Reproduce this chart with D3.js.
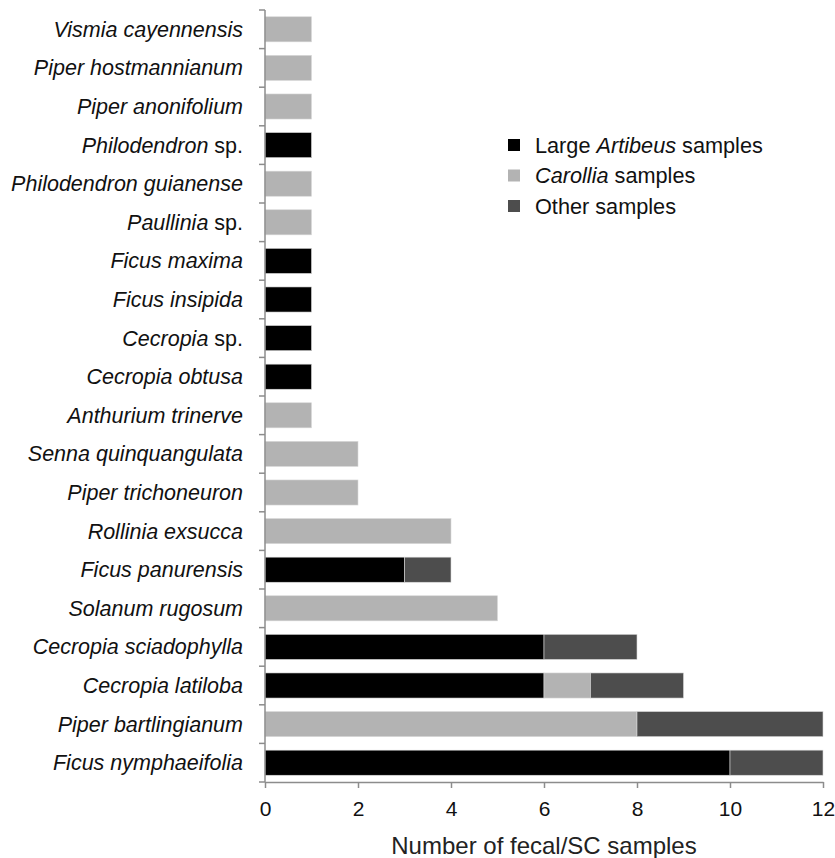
<!DOCTYPE html>
<html>
<head>
<meta charset="utf-8">
<script src="https://cdn.jsdelivr.net/npm/d3@7"></script>
<style>
  body { margin: 0; background: #fff; }
  svg { font-family: "Liberation Sans", Arial, sans-serif; }
</style>
</head>
<body>
<figure style="margin:0"></figure>
<script>
// species, top to bottom; italic part and upright suffix
const species = [
  ["Vismia cayennensis", ""],
  ["Piper hostmannianum", ""],
  ["Piper anonifolium", ""],
  ["Philodendron", " sp."],
  ["Philodendron guianense", ""],
  ["Paullinia", " sp."],
  ["Ficus maxima", ""],
  ["Ficus insipida", ""],
  ["Cecropia", " sp."],
  ["Cecropia obtusa", ""],
  ["Anthurium trinerve", ""],
  ["Senna quinquangulata", ""],
  ["Piper trichoneuron", ""],
  ["Rollinia exsucca", ""],
  ["Ficus panurensis", ""],
  ["Solanum rugosum", ""],
  ["Cecropia sciadophylla", ""],
  ["Cecropia latiloba", ""],
  ["Piper bartlingianum", ""],
  ["Ficus nymphaeifolia", ""]
];
const artibeus = [0, 0, 0, 1, 0, 0, 1, 1, 1, 1, 0, 0, 0, 0, 3, 0, 6, 6, 0, 10];
const carollia = [1, 1, 1, 0, 1, 1, 0, 0, 0, 0, 1, 2, 2, 4, 0, 5, 0, 1, 8, 0];
const other    = [0, 0, 0, 0, 0, 0, 0, 0, 0, 0, 0, 0, 0, 0, 1, 0, 2, 2, 4, 2];
const xTicks = [0, 2, 4, 6, 8, 10, 12];

const keys = ["artibeus", "carollia", "other"];
const colors = { artibeus: "#000000", carollia: "#b3b3b3", other: "#4d4d4d" };
const legendLabels = [
  [["Large ", false], ["Artibeus", true], [" samples", false]],
  [["Carollia", true], [" samples", false]],
  [["Other samples", false]]
];

const width = 835, height = 858;
const plotLeft = 265, plotRight = 823, plotTop = 10, plotBottom = 782;

const rows = species.map((s, i) => ({
  name: s[0] + s[1], artibeus: artibeus[i], carollia: carollia[i], other: other[i]
}));

const svg = d3.select("figure").append("svg")
  .attr("width", width).attr("height", height);

const x = d3.scaleLinear().domain([0, 12]).range([plotLeft, plotRight]);
const y = d3.scaleBand().domain(rows.map(d => d.name)).range([plotTop, plotBottom])
  .paddingInner(0.35).paddingOuter(0.175);

const stack = d3.stack().keys(keys)(rows);

svg.append("g")
  .selectAll("g")
  .data(stack)
  .enter().append("g")
  .attr("fill", d => colors[d.key])
  .selectAll("rect")
  .data(d => d.filter(p => p[1] > p[0]))
  .enter().append("rect")
  .attr("x", d => x(d[0]))
  .attr("y", d => y(d.data.name))
  .attr("width", d => x(d[1]) - x(d[0]))
  .attr("height", y.bandwidth())
  .attr("stroke", "#d9d9d9")
  .attr("stroke-width", 0.6);

// y axis line with boundary ticks
const axisColor = "#8c8c8c";
const step = (plotBottom - plotTop) / species.length;
svg.append("line")
  .attr("x1", plotLeft).attr("x2", plotLeft).attr("y1", plotTop).attr("y2", plotBottom)
  .attr("stroke", axisColor).attr("stroke-width", 1.5);
svg.append("g")
  .selectAll("line")
  .data(d3.range(species.length + 1))
  .enter().append("line")
  .attr("x1", plotLeft - 6).attr("x2", plotLeft)
  .attr("y1", i => plotTop + i * step).attr("y2", i => plotTop + i * step)
  .attr("stroke", axisColor).attr("stroke-width", 1.5);

// category labels
const labels = svg.append("g")
  .selectAll("text")
  .data(species)
  .enter().append("text")
  .attr("x", plotLeft - 22)
  .attr("y", (d, i) => y(rows[i].name) + y.bandwidth() / 2)
  .attr("dy", "0.35em")
  .attr("text-anchor", "end")
  .style("font-size", "21.5px")
  .attr("fill", "#111");
labels.append("tspan").style("font-style", "italic").text(d => d[0]);
labels.append("tspan").text(d => d[1]);

// x axis
const xAxis = svg.append("g")
  .attr("transform", "translate(0," + plotBottom + ")")
  .call(d3.axisBottom(x).tickValues(xTicks).tickSize(6).tickPadding(13).tickSizeOuter(0));
xAxis.select(".domain").attr("stroke", axisColor).attr("stroke-width", 1.5);
xAxis.selectAll(".tick line").attr("stroke", axisColor).attr("stroke-width", 1.5);
xAxis.selectAll("text")
  .style("font-size", "21px")
  .style("font-family", "Liberation Sans, Arial, sans-serif")
  .attr("fill", "#111");

svg.append("text")
  .attr("x", x(6)).attr("y", 846)
  .attr("dy", "0.35em")
  .attr("text-anchor", "middle")
  .style("font-size", "24px")
  .attr("fill", "#222")
  .text("Number of fecal/SC samples");

// legend
const legend = svg.append("g").attr("transform", "translate(508,145)");
keys.forEach((k, i) => {
  const g = legend.append("g").attr("transform", "translate(0," + i * 30.5 + ")");
  g.append("rect").attr("x", 0).attr("y", -6).attr("width", 12).attr("height", 12).attr("fill", colors[k]);
  const t = g.append("text").attr("x", 27).attr("dy", "0.35em")
    .style("font-size", "21.7px").attr("fill", "#111");
  legendLabels[i].forEach(p => {
    t.append("tspan").style("font-style", p[1] ? "italic" : "normal").text(p[0]);
  });
});
</script>
</body>
</html>
